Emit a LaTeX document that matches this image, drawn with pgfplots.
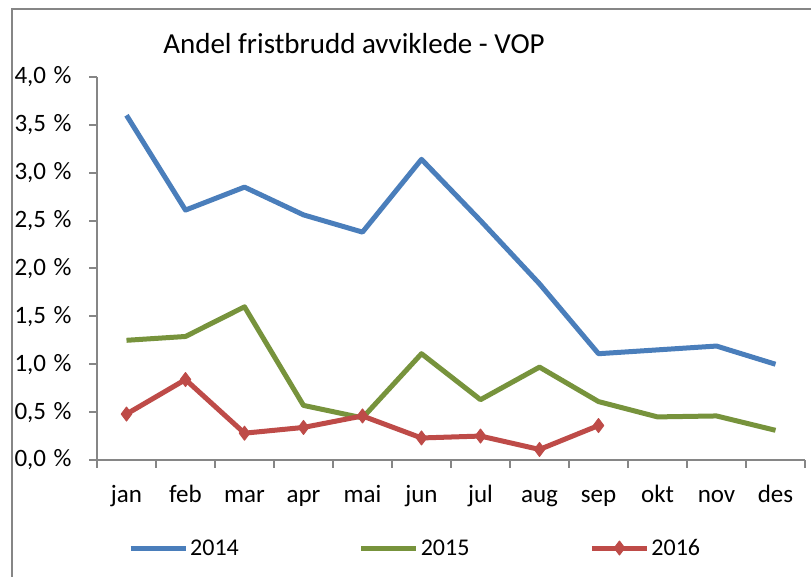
\documentclass[border=0pt]{standalone}
\usepackage{pgfplots}
\pgfplotsset{compat=1.18}
\usepackage{fontspec}
\setmainfont{Carlito}
\definecolor{c14}{RGB}{74,126,187}
\definecolor{c15}{RGB}{119,147,60}
\definecolor{c16}{RGB}{190,75,72}
\definecolor{axgray}{RGB}{134,134,134}
\begin{document}
\begin{tikzpicture}
\path[use as bounding box] (0pt,0pt) rectangle (811pt,577pt);
\fill[white] (0pt,0pt) rectangle (811pt,577pt);
\draw[axgray, line width=2pt] (12pt,0pt) -- (12pt,568pt) -- (811pt,568pt);
\node[font=\fontsize{29}{34}\selectfont, anchor=base] at (354pt,523pt) {Andel fristbrudd avviklede - VOP};
\begin{axis}[
  at={(97pt,117pt)}, anchor=south west,
  width=708pt, height=383pt, scale only axis,
  xmin=-0.5, xmax=11.5, ymin=0, ymax=4,
  axis x line=bottom, axis y line=left,
  axis line style={axgray, line width=2pt, -},
  tick align=outside,
  major tick length=8pt, minor tick length=8pt,
  xtick={0,...,11},
  xticklabels={jan,feb,mar,apr,mai,jun,jul,aug,sep,okt,nov,des},
  major x tick style={draw=none},
  minor xtick={-0.5,0.5,...,11.5},
  minor x tick style={axgray, line width=2pt},
  ytick={0,0.5,...,4},
  yticklabel={\pgfmathprintnumber[fixed, fixed zerofill, precision=1, use comma, assume math mode=true]{\tick}\hspace{0.3em}\%},
  major y tick style={axgray, line width=2pt},
  tick label style={font=\fontsize{25}{30}\selectfont},
  xticklabel style={text height=18pt, text depth=6pt, yshift=-13pt},
  yticklabel style={xshift=-14pt},
  legend columns=3,
  legend style={at={(0.0395,-0.2298)}, anchor=west, draw=none, fill=none,
    font=\fontsize{24}{28}\selectfont,
    /tikz/every even column/.append style={column sep=118pt},
    nodes={inner sep=2pt}},
  legend image code/.code={\draw[#1, mark repeat=2, mark phase=2] plot coordinates {(0pt,0pt) (27.5pt,0pt) (55pt,0pt)};},
  clip=false,
]
\addplot[c14, line width=5pt, no markers, line join=round] coordinates {
(0,3.60) (1,2.61) (2,2.85) (3,2.56) (4,2.38) (5,3.14) (6,2.50) (7,1.84) (8,1.11) (9,1.15) (10,1.19) (11,1.00)};
\addlegendentry{2014}
\addplot[c15, line width=5pt, no markers, line join=round] coordinates {
(0,1.25) (1,1.29) (2,1.60) (3,0.57) (4,0.44) (5,1.11) (6,0.63) (7,0.97) (8,0.61) (9,0.45) (10,0.46) (11,0.31)};
\addlegendentry{2015}
\addplot[c16, line width=5pt, line join=round, mark=diamond*, mark size=7pt, mark options={c16, fill=c16, line width=1pt}] coordinates {
(0,0.48) (1,0.84) (2,0.28) (3,0.34) (4,0.46) (5,0.23) (6,0.25) (7,0.11) (8,0.36)};
\addlegendentry{2016}
\end{axis}
\end{tikzpicture}
\end{document}
